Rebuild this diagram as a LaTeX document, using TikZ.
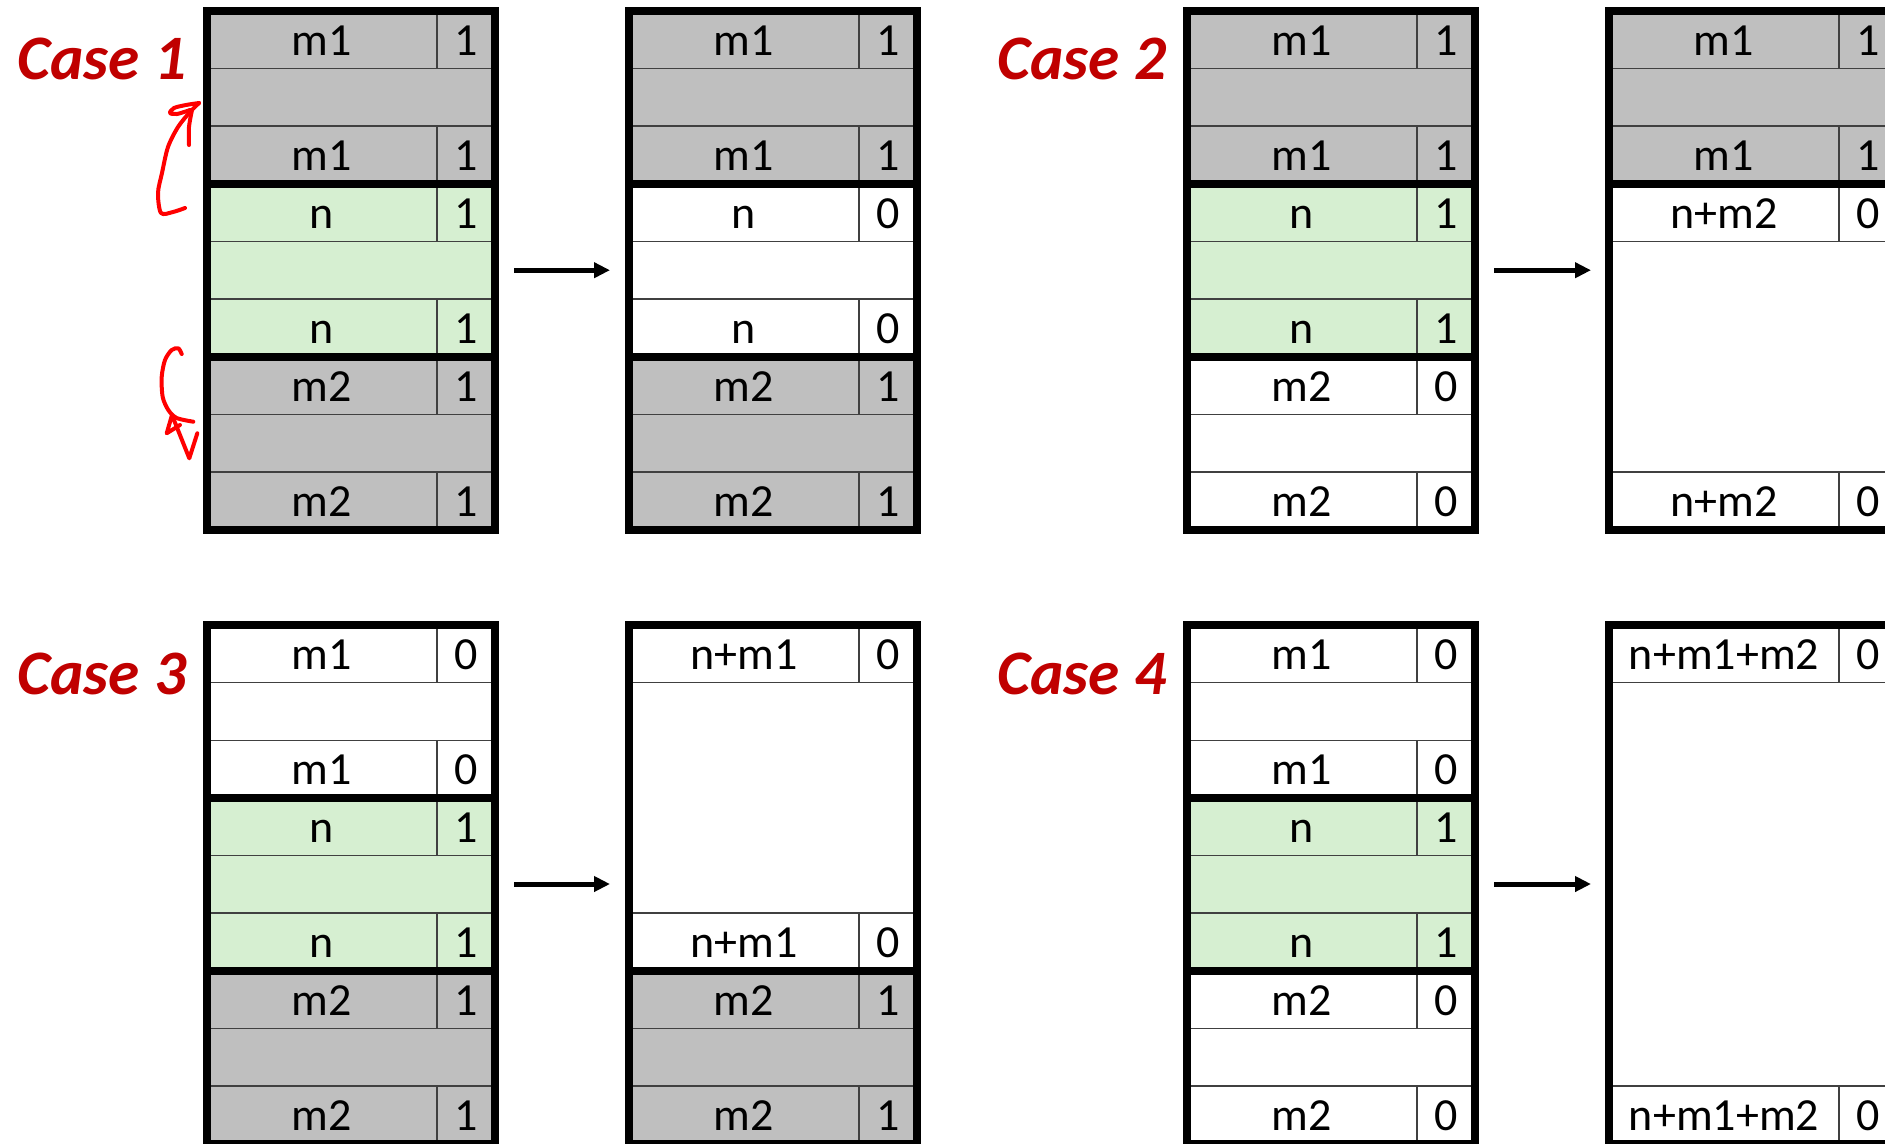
\documentclass[tikz,border=0pt]{standalone}
\usepackage{fontspec}
\setmainfont{Carlito}
\usetikzlibrary{arrows.meta}
\definecolor{memgray}{RGB}{191,191,191}
\definecolor{memgreen}{RGB}{214,239,209}
\definecolor{casered}{RGB}{192,0,0}
\newcommand\memblk[7]{%
  \fill[#5] (#2,#3) rectangle ({#2+288},{#3+#4*172.9});
  \draw[thinln] (#2,{#3+57.63}) -- ({#2+288},{#3+57.63});
  \draw[thinln] (#2,{#3+#4*172.9-57.63}) -- ({#2+288},{#3+#4*172.9-57.63});
  \draw[thinln] ({#2+230},#3) -- ({#2+230},{#3+57.63});
  \draw[thinln] ({#2+230},{#3+#4*172.9-57.63}) -- ({#2+230},{#3+#4*172.9});
  \node[lbl] (#1h) at ({#2+115},{#3+44.5}) {#6};
  \node[lbl] (#1hb) at ({#2+259},{#3+44.5}) {#7};
  \node[lbl] (#1f) at ({#2+115},{#3+#4*172.9-13.1}) {#6};
  \node[lbl] (#1fb) at ({#2+259},{#3+#4*172.9-13.1}) {#7};
}
\begin{document}
\begin{tikzpicture}[x=0.75pt,y=-0.75pt,
  thinln/.style={draw=black!75, line width=1.1pt},
  thickln/.style={draw=black, line width=6pt},
  lbl/.style={anchor=base, inner sep=0pt, font=\fontsize{34.5}{40}\selectfont},
  casel/.style={anchor=base, inner sep=0pt, text=casered, font=\fontsize{47.5}{56}\selectfont\bfseries\itshape},
  arr/.style={line width=3.75pt, -{Triangle[length=12pt,width=11.25pt]}},
  redpen/.style={draw=red, line width=3pt, line cap=round, line join=round}]
\useasboundingbox (0,0) rectangle (1885,1143);
\clip (0,0) rectangle (1885,1143);
\fill[white] (0,0) rectangle (1885,1143);

% ---------- Case 1 ----------
\memblk{c1a1}{207}{10.8}{1}{memgray}{m1}{1}
\memblk{c1a2}{207}{183.7}{1}{memgreen}{n}{1}
\memblk{c1a3}{207}{356.6}{1}{memgray}{m2}{1}
\draw[thickln] (207,10.8) rectangle (495,529.5);
\draw[thickln] (207,183.7) -- (495,183.7);
\draw[thickln] (207,356.6) -- (495,356.6);

\memblk{c1b1}{629}{10.8}{1}{memgray}{m1}{1}
\memblk{c1b2}{629}{183.7}{1}{white}{n}{0}
\memblk{c1b3}{629}{356.6}{1}{memgray}{m2}{1}
\draw[thickln] (629,10.8) rectangle (917,529.5);
\draw[thickln] (629,183.7) -- (917,183.7);
\draw[thickln] (629,356.6) -- (917,356.6);

% ---------- Case 2 ----------
\memblk{c2a1}{1187}{10.8}{1}{memgray}{m1}{1}
\memblk{c2a2}{1187}{183.7}{1}{memgreen}{n}{1}
\memblk{c2a3}{1187}{356.6}{1}{white}{m2}{0}
\draw[thickln] (1187,10.8) rectangle (1475,529.5);
\draw[thickln] (1187,183.7) -- (1475,183.7);
\draw[thickln] (1187,356.6) -- (1475,356.6);

\memblk{c2b1}{1609}{10.8}{1}{memgray}{m1}{1}
\memblk{c2b2}{1609}{183.7}{2}{white}{n+m2}{0}
\draw[thickln] (1609,10.8) rectangle (1897,529.5);
\draw[thickln] (1609,183.7) -- (1897,183.7);

% ---------- Case 3 ----------
\memblk{c3a1}{207}{625}{1}{white}{m1}{0}
\memblk{c3a2}{207}{797.9}{1}{memgreen}{n}{1}
\memblk{c3a3}{207}{970.8}{1}{memgray}{m2}{1}
\draw[thickln] (207,625) rectangle (495,1143.7);
\draw[thickln] (207,797.9) -- (495,797.9);
\draw[thickln] (207,970.8) -- (495,970.8);

\memblk{c3b1}{629}{625}{2}{white}{n+m1}{0}
\memblk{c3b3}{629}{970.8}{1}{memgray}{m2}{1}
\draw[thickln] (629,625) rectangle (917,1143.7);
\draw[thickln] (629,970.8) -- (917,970.8);

% ---------- Case 4 ----------
\memblk{c4a1}{1187}{625}{1}{white}{m1}{0}
\memblk{c4a2}{1187}{797.9}{1}{memgreen}{n}{1}
\memblk{c4a3}{1187}{970.8}{1}{white}{m2}{0}
\draw[thickln] (1187,625) rectangle (1475,1143.7);
\draw[thickln] (1187,797.9) -- (1475,797.9);
\draw[thickln] (1187,970.8) -- (1475,970.8);

\memblk{c4b1}{1609}{625}{3}{white}{n+m1+m2}{0}
\draw[thickln] (1609,625) rectangle (1897,1143.7);

% ---------- labels ----------
\node[casel] (case1) at (102,79.9) {Case 1};
\node[casel] (case2) at (1082,79.9) {Case 2};
\node[casel] (case3) at (102,694) {Case 3};
\node[casel] (case4) at (1082,694) {Case 4};

% ---------- arrows ----------
\coordinate (a1s) at (514,270.2);
\coordinate (a1e) at (610,270.2);
\coordinate (a2s) at (1494,270.2);
\coordinate (a2e) at (1591,270.2);
\coordinate (a3s) at (514,884);
\coordinate (a3e) at (610,884);
\coordinate (a4s) at (1494,884);
\coordinate (a4e) at (1591,884);
\draw[arr] (a1s) -- (a1e);
\draw[arr] (a2s) -- (a2e);
\draw[arr] (a3s) -- (a3e);
\draw[arr] (a4s) -- (a4e);

% ---------- red hand-drawn arrows ----------
\draw[redpen] plot[smooth] coordinates {(185,208) (173,212) (161,213) (158,193) (162,173) (168,147) (178,127) (190,112) (199,103)};
\draw[redpen] plot[smooth] coordinates {(199,103) (186,105) (174,108) (170,113) (177,114) (190,110)};
\draw[redpen] plot[smooth] coordinates {(192,110) (189,127) (189,145)};
\draw[redpen] plot[smooth] coordinates {(181.7,354) (178.3,348.3) (171.7,350) (165,360) (161.7,377) (162.7,397) (168.3,410) (176.7,418) (193.3,421.7)};
\draw[redpen] (180,425) -- (166.7,433.3) -- (172,415) -- (189.3,458.3) -- (197.3,433.3);
\end{tikzpicture}
\end{document}
